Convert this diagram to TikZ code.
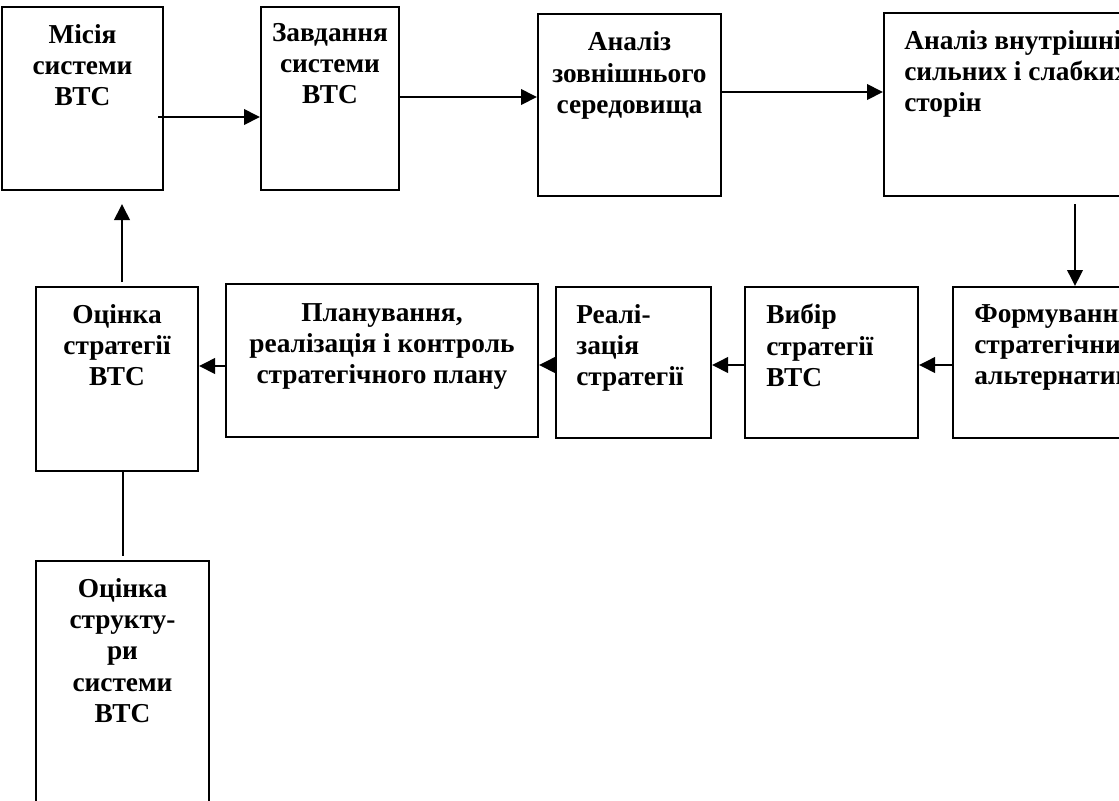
\documentclass[tikz,border=0pt]{standalone}
\usepackage{fontspec}
\setmainfont{Liberation Serif}
\usetikzlibrary{arrows.meta,fit}
\tikzset{
  x=0.75pt, y=-0.75pt,
  boxf/.style={draw, line width=1.5pt, inner sep=0pt},
  lbl/.style={font=\fontsize{20.5}{23.5}\selectfont\bfseries, inner sep=0pt},
  lblc/.style={lbl, align=center, anchor=north},
  lbll/.style={lbl, align=left, anchor=north west},
  arr/.style={line width=2pt, -{Triangle[length=12pt,width=11.5pt]}},
  plain/.style={line width=1.5pt}
}
\newcommand{\mkbox}[5]{%
  \path (#2,#3) coordinate (#1-nw) (#4,#5) coordinate (#1-se);
  \node[boxf, fit=(#1-nw)(#1-se)] (#1) {};}
\begin{document}
\begin{tikzpicture}
\useasboundingbox (0,0) rectangle (1119,800);
\clip (0,0) rectangle (1119,800);
% boxes
\mkbox{m1}{2}{7}{163}{190}
\mkbox{m2}{261}{7}{399}{190}
\mkbox{m3}{538}{14}{721}{196}
\mkbox{m4}{884}{13}{1266}{196}
\mkbox{m5}{953}{287}{1200}{438}
\mkbox{vyb}{745}{287}{918}{438}
\mkbox{real}{556}{287}{711}{438}
\mkbox{plan}{226}{284}{538}{437}
\mkbox{ots}{36}{287}{198}{471}
\mkbox{otss}{36}{561}{209}{820}
% labels
\node[lblc] (m1-t) at ([yshift=-13.5pt]m1.north) {Місія\\системи\\ВТС};
\node[lblc] (m2-t) at ([yshift=-12.5pt]m2.north) {Завдання\\системи\\ВТС};
\node[lblc] (m3-t) at ([yshift=-14pt]m3.north) {Аналіз\\зовнішнього\\середовища};
\node[lbll] (m4-t) at ([shift={(21,0)},yshift=-13.5pt]m4.north west) {Аналіз внутрішніх\\сильних і слабких\\сторін};
\node[lbll] (m5-t) at ([shift={(22,0)},yshift=-13.5pt]m5.north west) {Формування\\стратегічних\\альтернатив};
\node[lbll] (vyb-t) at ([shift={(22,0)},yshift=-13.5pt]vyb.north west) {Вибір\\стратегії\\ВТС};
\node[lbll] (real-t) at ([shift={(21,0)},yshift=-13.5pt]real.north west) {Реалі-\\зація\\стратегії};
\node[lblc] (plan-t) at ([yshift=-15pt]plan.north) {Планування,\\реалізація і контроль\\стратегічного плану};
\node[lblc] (ots-t) at ([yshift=-13.5pt]ots.north) {Оцінка\\стратегії\\ВТС};
\node[lblc] (otss-t) at ([yshift=-13.5pt]otss.north) {Оцінка\\структу-\\ри\\системи\\ВТС};
% connectors
\draw[arr] ([shift={(-6,18.5)}]m1.east) coordinate (a1) -- (a1 -| m2.west);
\draw[arr] ([shift={(0,-1.5)}]m2.east) coordinate (a2) -- (a2 -| m3.west);
\draw[arr] ([shift={(0,-13)}]m3.east) coordinate (a3) -- (a3 -| m4.west);
\draw[arr] ([shift={(0,7)}]m4.south) -- (m4.south |- m5.north);
\draw[arr] ([shift={(0,2.5)}]m5.west) coordinate (a5) -- (a5 -| vyb.east);
\draw[arr] (a5 -| vyb.west) -- (a5 -| real.east);
\draw[arr] (a5 -| real.west) -- (a5 -| plan.east);
\draw[arr] ([shift={(0,1)}]a5 -| plan.west) coordinate (a8) -- (a8 -| ots.east);
\draw[arr] ([shift={(5,-4)}]ots.north) coordinate (a9) -- ([shift={(0,13)}]a9 |- m1.south);
\draw[plain] (otss.north |- ots.south) -- ([shift={(0,-4)}]otss.north);
\end{tikzpicture}
\end{document}
